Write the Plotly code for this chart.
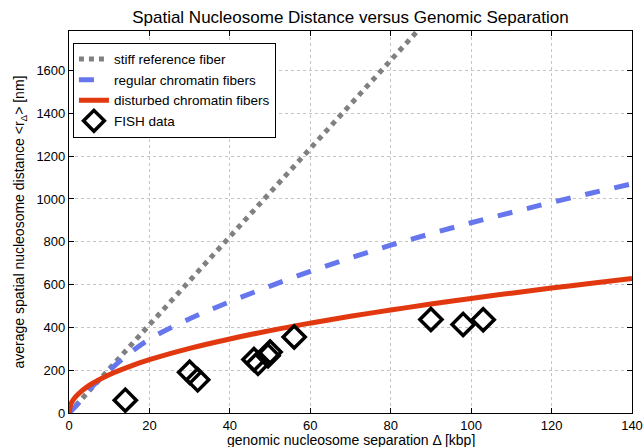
import plotly.graph_objects as go

# Data
stiff_x = [0, 20, 40, 60, 80, 100]
stiff_y = [0, 412, 824, 1236, 1648, 2060]

regular_x = [0, 2, 5, 10, 15, 20, 30, 40, 50, 60, 70, 80, 90, 100, 110, 120, 130, 140]
regular_y = [0, 38, 108, 198, 278, 345, 440, 520, 593, 662, 725, 784, 838, 889, 937, 984, 1028, 1071]

disturbed_x = [0, 0.5, 1, 2, 5, 10, 15, 20, 30, 40, 50, 60, 70, 80, 90, 100, 110, 120, 130, 140]
disturbed_y = [0, 43, 60, 83, 129, 179, 217, 249, 302, 346, 385, 420, 452, 481, 509, 535, 560, 584, 606, 628]

fish_x = [14, 30, 32, 46, 47, 49.5, 50, 56, 90, 98, 103]
fish_y = [60, 190, 155, 250, 232, 268, 285, 355, 437, 414, 436]

x_ticks = [0, 20, 40, 60, 80, 100, 120, 140]
y_ticks = [0, 200, 400, 600, 800, 1000, 1200, 1400, 1600]

FONT = "Liberation Sans, Arial, Helvetica, sans-serif"

fig = go.Figure()
fig.add_trace(go.Scatter(x=stiff_x, y=stiff_y, mode="lines", name="stiff reference fiber",
                         line=dict(color="#808080", width=5, dash="dot")))
fig.add_trace(go.Scatter(x=regular_x, y=regular_y, mode="lines", name="regular chromatin fibers",
                         line=dict(color="#6677ee", width=5, dash="dash", shape="spline")))
fig.add_trace(go.Scatter(x=disturbed_x, y=disturbed_y, mode="lines", name="disturbed chromatin fibers",
                         line=dict(color="#e2380f", width=5, shape="spline")))
fig.add_trace(go.Scatter(x=fish_x, y=fish_y, mode="markers", name="FISH data",
                         marker=dict(symbol="diamond-open", size=17, color="black",
                                     line=dict(color="black", width=3.5))))

axis_common = dict(showline=True, linecolor="black", linewidth=1.2, mirror="ticks",
                   ticks="inside", ticklen=5, tickcolor="black", automargin=True,
                   showgrid=True, gridcolor="#c4c4c4", griddash="dot", gridwidth=1,
                   zeroline=False, tickfont=dict(size=13, color="black", family=FONT))

fig.update_xaxes(range=[0, 140], tickvals=x_ticks, **axis_common)
fig.update_yaxes(range=[0, 1785], tickvals=y_ticks, **axis_common,
                 title=dict(text="average spatial nucleosome distance &lt;r<sub>Δ</sub>&gt; [nm]",
                            font=dict(size=14, color="black", family=FONT), standoff=8))

fig.add_annotation(text="genomic nucleosome separation Δ [kbp]",
                   xref="paper", yref="paper", x=0.5, y=0, xanchor="center", yanchor="top",
                   yshift=-17, showarrow=False,
                   font=dict(size=14, color="black", family=FONT))

fig.update_layout(
    width=643, height=447,
    margin=dict(l=69, r=11, t=31, b=34, autoexpand=False),
    paper_bgcolor="white", plot_bgcolor="white",
    font=dict(family=FONT, color="black"),
    title=dict(text="Spatial Nucleosome Distance versus Genomic Separation",
               x=0.545, xanchor="center", y=0.962, yanchor="middle",
               font=dict(size=17, color="black", family=FONT)),
    legend=dict(x=0.007, y=0.969, xanchor="left", yanchor="top",
                bgcolor="white", bordercolor="black", borderwidth=1,
                font=dict(size=13.5, color="black", family=FONT),
                tracegroupgap=0, itemwidth=30),
    showlegend=True,
)

fig.write_html("out.html")
